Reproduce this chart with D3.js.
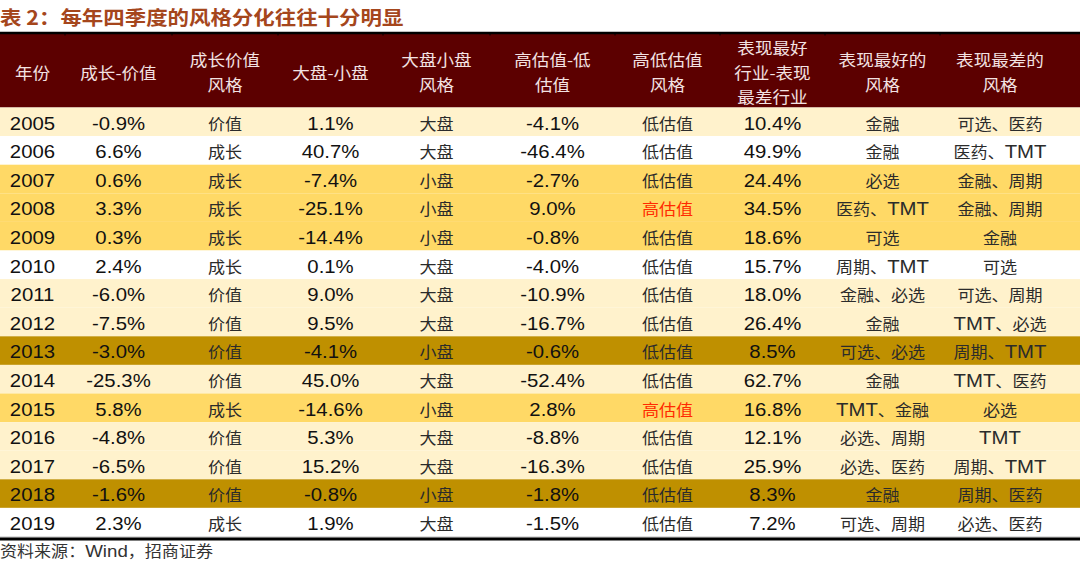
<!DOCTYPE html>
<html>
<head>
<meta charset="utf-8">
<script src="https://cdn.jsdelivr.net/npm/d3@7"></script>
<style>
  body { margin: 0; background: #fff; }
  svg { display: block; }
</style>
</head>
<body>
<div id="table_chart"></div>
<script>
// table data, one array per column
var years = [2005, 2006, 2007, 2008, 2009, 2010, 2011, 2012, 2013, 2014, 2015, 2016, 2017, 2018, 2019];
var growth_value = [-0.9, 6.6, 0.6, 3.3, 0.3, 2.4, -6.0, -7.5, -3.0, -25.3, 5.8, -4.8, -6.5, -1.6, 2.3];
var gv_style = ["价值", "成长", "成长", "成长", "成长", "成长", "价值", "价值", "价值", "价值", "成长", "价值", "价值", "价值", "成长"];
var big_small = [1.1, 40.7, -7.4, -25.1, -14.4, 0.1, 9.0, 9.5, -4.1, 45.0, -14.6, 5.3, 15.2, -0.8, 1.9];
var bs_style = ["大盘", "大盘", "小盘", "小盘", "小盘", "大盘", "大盘", "大盘", "小盘", "大盘", "小盘", "大盘", "大盘", "小盘", "大盘"];
var high_low = [-4.1, -46.4, -2.7, 9.0, -0.8, -4.0, -10.9, -16.7, -0.6, -52.4, 2.8, -8.8, -16.3, -1.8, -1.5];
var hl_style = ["低估值", "低估值", "低估值", "高估值", "低估值", "低估值", "低估值", "低估值", "低估值", "低估值", "高估值", "低估值", "低估值", "低估值", "低估值"];
var best_worst = [10.4, 49.9, 24.4, 34.5, 18.6, 15.7, 18.0, 26.4, 8.5, 62.7, 16.8, 12.1, 25.9, 8.3, 7.2];
var best_style = ["金融", "金融", "必选", "医药、TMT", "可选", "周期、TMT", "金融、必选", "金融", "可选、必选", "金融", "TMT、金融", "必选、周期", "必选、医药", "金融", "可选、周期"];
var worst_style = ["可选、医药", "医药、TMT", "金融、周期", "金融、周期", "金融", "可选", "可选、周期", "TMT、必选", "周期、TMT", "TMT、医药", "必选", "TMT", "周期、TMT", "周期、医药", "必选、医药"];
var row_group = ["light", "white", "gold", "gold", "gold", "white", "light", "light", "dark", "light", "gold", "light", "light", "dark", "white"];

var headers = [
    ["年份"], ["成长-价值"], ["成长价值", "风格"], ["大盘-小盘"], ["大盘小盘", "风格"],
    ["高估值-低", "估值"], ["高低估值", "风格"], ["表现最好", "行业-表现", "最差行业"],
    ["表现最好的", "风格"], ["表现最差的", "风格"]
];

var width = 1080, height = 568;
var col_w = [65, 107, 106, 105, 107, 125, 105, 105, 115, 120];
var col_x = [0];
col_w.forEach(function(w, i){ col_x.push(col_x[i] + w); });
var col_c = col_w.map(function(w, i){ return col_x[i] + w / 2; });

var row_colors = {light: "#fff2cc", white: "#ffffff", gold: "#ffd966", dark: "#bf9000"};
var pct = function(v){ return v.toFixed(1) + "%"; };

var svg = d3.select("#table_chart")
    .append("svg")
    .attr("width", width)
    .attr("height", height);

var latin_font = "'Liberation Sans', Arial, sans-serif";
var cjk_font = "'Noto Sans CJK SC', sans-serif";
var xs = 1.1; // source picture is a bit stretched sideways

// split a string into latin / cjk runs so each gets its own font and size
function add_runs(txt, str, latin_size, cjk_size){
    var parts = str.match(/[\x00-\x7F]+|[^\x00-\x7F]+/g) || [];
    parts.forEach(function(p){
        var latin = /^[\x00-\x7F]+$/.test(p);
        txt.append("tspan")
            .style("font-family", latin ? latin_font : cjk_font)
            .style("font-size", (latin ? latin_size : cjk_size) + "px")
            .text(p);
    });
}

// title
svg.append("text")
    .attr("transform", "translate(0,25) scale(" + xs + ",1)")
    .style("font-family", cjk_font)
    .style("font-weight", "bold")
    .style("font-size", "19.5px")
    .style("fill", "#a5461c")
    .text("表 2：每年四季度的风格分化往往十分明显");

var head_top = 33.5, head_bot = 107.5, body_bot = 536.5;

svg.append("rect")
    .attr("x", 0).attr("y", head_top)
    .attr("width", width).attr("height", head_bot - head_top)
    .attr("fill", "#5c0000");

svg.append("line")
    .attr("x1", 0).attr("x2", width)
    .attr("y1", head_top - 0.5).attr("y2", head_top - 0.5)
    .attr("stroke", "#000").attr("stroke-width", 2.5);

svg.selectAll(".col_tick")
    .data(col_x.slice(1, -1))
    .enter()
    .append("line")
    .attr("x1", d => d).attr("x2", d => d)
    .attr("y1", head_top).attr("y2", head_top + 2)
    .attr("stroke", "#000");

var head_mid = 72.5, head_step = 24.5;
headers.forEach(function(lines, i){
    lines.forEach(function(t, j){
        var cy = head_mid + (j - (lines.length - 1) / 2) * head_step;
        svg.append("text")
            .attr("transform", "translate(" + col_c[i] + "," + (cy + 6) + ") scale(" + xs + ",1)")
            .attr("text-anchor", "middle")
            .style("font-family", cjk_font)
            .style("font-size", "16px")
            .style("fill", "#f3e2e2")
            .text(t);
    });
});

var y = d3.scaleBand()
    .domain(years)
    .range([head_bot, body_bot]);

var rows = svg.selectAll(".row")
    .data(years)
    .enter()
    .append("g")
    .attr("class", "row")
    .attr("transform", d => "translate(0," + y(d) + ")");

rows.append("rect")
    .attr("width", width)
    .attr("height", y.bandwidth())
    .attr("fill", (d, i) => row_colors[row_group[i]]);

var cells = years.map(function(yr, i){
    return [
        {t: String(yr), num: true},
        {t: pct(growth_value[i]), num: true},
        {t: gv_style[i]},
        {t: pct(big_small[i]), num: true},
        {t: bs_style[i]},
        {t: pct(high_low[i]), num: true},
        {t: hl_style[i], red: hl_style[i] == "高估值"},
        {t: pct(best_worst[i]), num: true},
        {t: best_style[i]},
        {t: worst_style[i]}
    ];
});

rows.each(function(d, i){
    var g = d3.select(this);
    var cy = y.bandwidth() / 2;
    cells[i].forEach(function(c, k){
        var txt = g.append("text")
            .attr("transform", "translate(" + col_c[k] + "," + (cy + 7.8) + ") scale(" + xs + ",1)")
            .attr("text-anchor", "middle")
            .style("fill", c.red ? "#ff2a00" : (c.num ? "#111" : "#2b2b2b"));
        add_runs(txt, c.t, 18.5, 15.5);
    });
});

svg.append("line")
    .attr("x1", 0).attr("x2", width)
    .attr("y1", body_bot + 0.5).attr("y2", body_bot + 0.5)
    .attr("stroke", "#bbb").attr("stroke-width", 1);

svg.append("line")
    .attr("x1", 0).attr("x2", width)
    .attr("y1", 539).attr("y2", 539)
    .attr("stroke", "#000").attr("stroke-width", 3);

var source = svg.append("text")
    .attr("transform", "translate(0,557) scale(" + xs + ",1)")
    .style("fill", "#333");
add_runs(source, "资料来源：Wind，招商证券", 17, 15.5);
</script>
</body>
</html>
